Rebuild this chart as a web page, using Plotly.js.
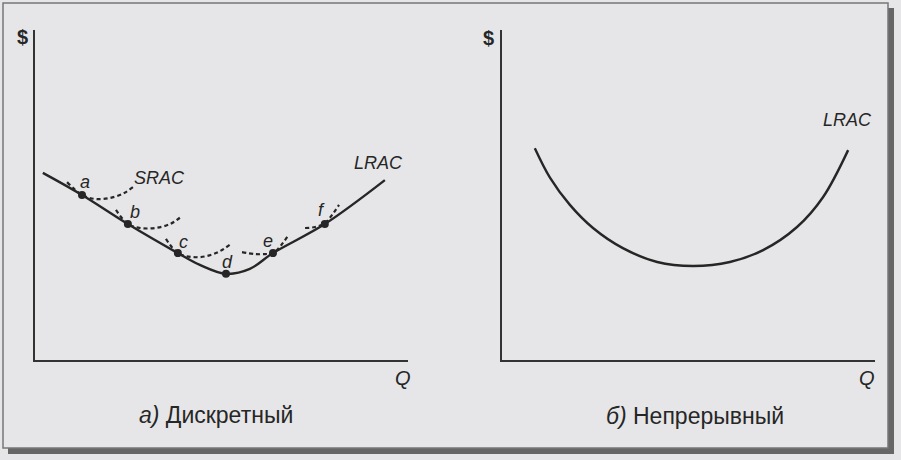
<!DOCTYPE html>
<html>
<head>
<meta charset="utf-8">
<script src="https://cdn.plot.ly/plotly-3.0.1.min.js"></script>
<style>html,body{margin:0;padding:0;background:#fff;}#chart{width:901px;height:460px;}</style>
</head>
<body>
<div id="chart"></div>
<script>
// ---- Panel (a): discrete ----
const lracA_x = [2.1, 12.6, 24.9, 38.3, 44.2, 51.2, 57.6, 63.8, 77.7, 93.8];
const lracA_y = [56.7, 50.0, 41.2, 32.4, 28.8, 26.1, 27.6, 32.4, 41.2, 54.5];

const sracA_x = [8.6, 12.6, 16.1, 20.1, 23.9, 26.3];
const sracA_y = [53.9, 50.0, 48.8, 49.1, 50.6, 52.4];
const sracB_x = [21.7, 24.9, 28.2, 32.2, 36.2, 39.4];
const sracB_y = [45.5, 41.2, 40.0, 40.0, 41.2, 43.6];
const sracC_x = [35.1, 38.3, 42.1, 46.1, 49.6, 52.3];
const sracC_y = [36.7, 32.4, 31.2, 31.5, 33.0, 35.0];
const sracE_x = [55.5, 59.0, 61.7, 63.8, 66.0, 67.8];
const sracE_y = [32.7, 32.1, 32.1, 32.4, 34.8, 37.6];
const sracF_x = [72.4, 75.1, 77.7, 79.6, 81.5];
const sracF_y = [40.0, 40.3, 41.5, 43.9, 47.0];

const pointNames = ['a', 'b', 'c', 'd', 'e', 'f'];
const point_x = [12.6, 24.9, 38.3, 51.2, 63.8, 77.7];
const point_y = [50.0, 41.2, 32.4, 26.1, 32.4, 41.2];
const pointLabel_x = [13.4, 26.8, 39.7, 51.7, 62.5, 76.9];
const pointLabel_y = [53.9, 44.8, 35.8, 29.7, 36.1, 45.5];

// ---- Panel (b): continuous ----
const lracB_x = [8.8, 12.9, 18.2, 24.4, 32.4, 41.6, 51.2, 61.1, 70.0, 79.1, 86.1, 92.8];
const lracB_y = [64.2, 55.2, 47.0, 40.0, 33.9, 29.7, 28.5, 29.7, 33.3, 40.3, 49.4, 63.6];

const panelPrefixes = ['а)', 'б)'];
const panelTitles = ['Дискретный', 'Непрерывный'];

const ink = '#262626';
const F = 'Liberation Sans, Arial, sans-serif';

const dash = {color: ink, width: 2.2, dash: '4px,3px'};
function srac(x, y) {
  return {x: x, y: y, xaxis: 'x', yaxis: 'y', mode: 'lines', type: 'scatter',
    line: Object.assign({shape: 'spline', smoothing: 1}, dash), hoverinfo: 'skip'};
}

const traces = [
  srac(sracA_x, sracA_y), srac(sracB_x, sracB_y), srac(sracC_x, sracC_y),
  srac(sracE_x, sracE_y), srac(sracF_x, sracF_y),
  {x: lracA_x, y: lracA_y, xaxis: 'x', yaxis: 'y', mode: 'lines', type: 'scatter',
   line: {color: ink, width: 2.4, shape: 'spline', smoothing: 1}},
  {x: point_x, y: point_y, xaxis: 'x', yaxis: 'y', mode: 'markers', type: 'scatter',
   marker: {color: ink, size: 8}},
  {x: lracB_x, y: lracB_y, xaxis: 'x2', yaxis: 'y2', mode: 'lines', type: 'scatter',
   line: {color: ink, width: 2.4, shape: 'spline', smoothing: 1}}
];

const W = 901, H = 460;
const px = v => v / W, py = v => 1 - v / H;

const ax = {range: [0, 100], showgrid: false, zeroline: false, showticklabels: false,
  ticks: '', showline: true, linecolor: '#333', linewidth: 2, fixedrange: true};

const C = {xanchor: 'center', yanchor: 'middle', showarrow: false};
const annotations = [];
const ital = {family: F, size: 18, color: ink, style: 'italic'};
pointNames.forEach((n, i) => annotations.push(Object.assign({x: pointLabel_x[i], y: pointLabel_y[i],
  xref: 'x', yref: 'y', text: n, font: ital}, C)));
annotations.push(Object.assign({x: 33.5, y: 55.2, xref: 'x', yref: 'y', text: 'SRAC', font: ital}, C));
annotations.push(Object.assign({x: 92.0, y: 59.7, xref: 'x', yref: 'y', text: 'LRAC', font: ital}, C));
annotations.push(Object.assign({x: 92.5, y: 72.7, xref: 'x2', yref: 'y2', text: 'LRAC', font: ital}, C));
[[22, 37], [488, 38]].forEach(p => annotations.push(Object.assign({x: px(p[0]), y: py(p[1]),
  xref: 'paper', yref: 'paper', text: '<b>$</b>', font: {family: F, size: 20, color: ink}}, C)));
[[403, 378], [867, 378]].forEach(p => annotations.push(Object.assign({x: px(p[0]), y: py(p[1]),
  xref: 'paper', yref: 'paper', text: 'Q', font: {family: F, size: 20, color: ink, style: 'italic'}}, C)));
annotations.push(Object.assign({x: px(216), y: py(415), xref: 'paper', yref: 'paper',
  text: '<i>' + panelPrefixes[0] + '</i> ' + panelTitles[0], font: {family: F, size: 23, color: ink}}, C));
annotations.push(Object.assign({x: px(695), y: py(416), xref: 'paper', yref: 'paper',
  text: '<i>' + panelPrefixes[1] + '</i> ' + panelTitles[1], font: {family: F, size: 23, color: ink}}, C));

const shapes = [
  {type: 'rect', xref: 'paper', yref: 'paper', x0: px(888), x1: px(894), y0: py(454), y1: py(8),
   fillcolor: '#666', line: {width: 0}},
  {type: 'rect', xref: 'paper', yref: 'paper', x0: px(8), x1: px(894), y0: py(454), y1: py(448),
   fillcolor: '#666', line: {width: 0}},
  {type: 'rect', xref: 'paper', yref: 'paper', x0: px(3), x1: px(888), y0: py(448), y1: py(3),
   fillcolor: 'rgba(0,0,0,0)', line: {color: '#777', width: 1.5}}
];

const layout = {
  width: W, height: H,
  margin: {l: 0, r: 0, t: 0, b: 0},
  paper_bgcolor: '#e6e6e8', plot_bgcolor: 'rgba(0,0,0,0)',
  showlegend: false,
  xaxis: Object.assign({}, ax, {domain: [px(35), px(408)], anchor: 'y'}),
  yaxis: Object.assign({}, ax, {domain: [py(360), py(30)], anchor: 'x'}),
  xaxis2: Object.assign({}, ax, {domain: [px(502), px(875)], anchor: 'y2'}),
  yaxis2: Object.assign({}, ax, {domain: [py(360), py(30)], anchor: 'x2'}),
  annotations: annotations,
  shapes: shapes,
  font: {family: F, color: ink}
};

Plotly.newPlot('chart', traces, layout, {staticPlot: true, displayModeBar: false});
</script>
</body>
</html>
